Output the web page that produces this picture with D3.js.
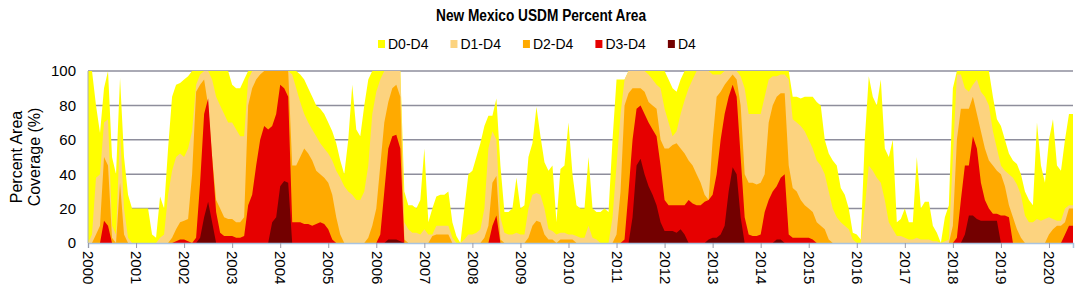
<!DOCTYPE html>
<html>
<head>
<meta charset="utf-8">
<script src="https://cdn.jsdelivr.net/npm/d3@7"></script>
<style>
body { margin: 0; background: #fff; }
text { font-family: "Liberation Sans", Arial, sans-serif; }
</style>
</head>
<body>
<div id="chart"></div>
<script>
// monthly values, first value = Jan 2000, last = Jul 2020
const startYear = 2000;
const yearTicks = d3.range(2000, 2021);
const yTicks = [0, 20, 40, 60, 80, 100];
const categories = ["D0-D4", "D1-D4", "D2-D4", "D3-D4", "D4"];
const colors = ["#ffff00", "#fcd37f", "#ffaa00", "#e60000", "#730000"];

const d0 = [
100,100,80,64,90,100,50,40,96,50,28,20,
20,20,20,20,5,3,27,20,55,85,92,93,
95,97,100,100,100,100,100,100,100,100,100,100,
92,90,90,95,100,100,100,100,100,100,100,100,
100,100,100,100,100,98,95,90,85,80,78,75,
70,65,58,48,40,60,92,66,62,80,95,100,
100,100,100,100,100,100,100,30,22,22,20,25,
55,12,20,27,28,28,30,12,4,0,20,40,
42,50,58,68,74,74,84,45,18,18,20,38,
20,22,50,58,79,62,47,42,45,12,43,45,
70,40,22,20,20,50,20,18,18,20,18,60,
95,95,95,100,100,100,100,100,100,100,100,100,
100,95,90,88,95,100,100,100,100,100,100,100,
100,100,100,100,100,100,100,100,100,100,100,100,
100,100,100,100,100,100,100,100,85,85,84,85,
85,85,82,80,60,52,48,45,32,28,20,6,
5,2,60,97,85,80,95,55,50,60,12,14,
20,12,12,50,20,24,24,10,6,0,15,22,
90,100,100,100,100,100,100,100,100,100,85,72,
68,60,52,48,46,40,30,25,22,70,45,35,
60,72,45,42,60,75,75
];

const d1 = [
0,5,38,40,70,72,10,5,65,20,3,0,
0,0,0,0,0,0,3,5,28,42,50,52,
50,55,65,92,98,100,100,95,85,80,75,70,
70,66,62,62,95,100,100,100,100,100,100,100,
100,100,100,98,90,82,75,70,66,62,58,55,
52,48,42,38,33,30,28,25,25,30,45,75,
88,95,100,100,100,100,100,12,8,6,6,5,
8,5,5,10,10,10,10,3,0,0,2,5,
5,6,8,20,55,65,60,15,6,5,5,6,
5,5,20,28,29,28,20,8,7,5,6,6,
5,5,4,3,3,10,3,2,0,0,0,15,
45,75,95,100,100,100,100,100,98,95,92,90,
78,70,62,65,75,83,90,95,100,100,100,100,
98,98,98,100,100,100,100,97,90,75,75,75,
75,85,95,97,97,98,98,95,72,70,68,65,
60,55,48,45,40,30,20,15,12,10,8,2,
0,0,20,45,42,38,35,25,12,8,4,4,
3,2,2,3,2,2,2,1,1,0,1,2,
50,98,98,90,88,92,95,88,85,80,65,55,
45,42,40,38,34,28,16,12,12,14,13,14,
15,14,13,13,20,22,22
];

const d2 = [
0,0,5,10,50,45,3,0,35,5,0,0,
0,0,0,0,0,0,0,0,0,3,8,12,
13,14,40,88,92,95,80,50,25,20,15,14,
14,12,12,15,80,90,95,98,100,100,100,100,
100,100,100,45,45,50,55,52,48,42,40,38,
35,28,15,5,0,0,0,0,0,0,3,10,
20,45,70,82,90,92,85,2,0,0,0,0,
0,0,4,5,5,5,5,0,0,0,0,0,
0,0,0,3,10,35,39,2,0,0,0,0,
0,0,3,10,13,12,5,2,2,0,2,2,
2,2,0,0,0,0,0,0,0,0,0,0,
5,30,80,87,90,90,90,88,82,80,78,60,
55,55,57,58,55,52,48,45,40,35,28,25,
60,85,88,92,95,98,95,80,40,35,35,34,
35,40,70,80,85,87,87,45,32,30,25,22,
20,18,12,10,8,2,0,0,0,0,0,0,
0,0,0,0,0,0,0,0,0,0,0,0,
0,0,0,0,0,0,0,0,0,0,0,0,
10,60,78,78,78,85,75,65,55,48,45,42,
40,33,22,15,8,3,0,0,0,0,0,0,
5,8,10,10,12,20,20
];

const d3v = [
0,0,0,0,13,10,0,0,0,0,0,0,
0,0,0,0,0,0,0,0,0,0,1,2,
2,1,0,3,35,75,84,50,18,6,4,4,
4,3,3,4,22,28,45,60,68,66,68,75,
92,90,85,12,12,12,11,11,10,11,12,11,
8,2,0,0,0,0,0,0,0,0,0,0,
0,5,30,55,62,63,55,0,0,0,0,0,
0,0,0,0,0,0,0,0,0,0,0,0,
0,0,0,0,0,10,16,0,0,0,0,0,
0,0,0,0,0,0,0,0,0,0,0,0,
0,0,0,0,0,0,0,0,0,0,0,0,
0,0,2,30,60,78,80,75,70,66,62,45,
25,22,22,22,22,22,25,23,22,22,24,25,
28,40,60,75,85,92,85,50,15,5,4,4,
5,18,25,30,33,38,40,5,3,3,3,3,
3,2,0,0,0,0,0,0,0,0,0,0,
0,0,0,0,0,0,0,0,0,0,0,0,
0,0,0,0,0,0,0,0,0,0,0,0,
0,3,25,45,45,62,55,35,25,20,17,17,
16,16,15,0,0,0,0,0,0,0,0,0,
0,0,0,0,5,10,10
];

const d4 = [
0,0,0,0,0,0,0,0,0,0,0,0,
0,0,0,0,0,0,0,0,0,0,0,0,
0,0,0,0,3,15,24,12,0,0,0,0,
0,0,0,0,0,0,0,0,0,0,12,15,
33,36,35,0,0,0,0,0,0,0,0,0,
0,0,0,0,0,0,0,0,0,0,0,0,
0,0,0,2,2,2,1,0,0,0,0,0,
0,0,0,0,0,0,0,0,0,0,0,0,
0,0,0,0,0,0,0,0,0,0,0,0,
0,0,0,0,0,0,0,0,0,0,0,0,
0,0,0,0,0,0,0,0,0,0,0,0,
0,0,0,0,15,45,49,40,33,28,22,12,
7,7,7,6,8,5,0,0,0,0,0,2,
3,3,5,10,30,44,40,15,0,0,0,0,
0,0,0,0,2,2,0,0,0,0,0,0,
0,0,0,0,0,0,0,0,0,0,0,0,
0,0,0,0,0,0,0,0,0,0,0,0,
0,0,0,0,0,0,0,0,0,0,0,0,
0,0,0,5,16,16,14,13,13,13,13,13,
0,0,0,0,0,0,0,0,0,0,0,0,
0,0,0,0,0,0,0
];

const series = [d0, d1, d2, d3v, d4];
const dates = d0.map((_, i) => startYear + i / 12);

const W = 1084, H = 292;
const plotLeft = 88, plotRight = 1073, plotTop = 71, plotBottom = 243;

const svg = d3.select("#chart").append("svg")
  .attr("width", W)
  .attr("height", H);

const x = d3.scaleLinear()
  .domain([startYear, d3.max(dates)])
  .range([plotLeft, plotRight]);

const y = d3.scaleLinear()
  .domain([0, 100])
  .range([plotBottom, plotTop]);

// title (narrow bold face in the original)
svg.append("text")
  .attr("x", 541)
  .attr("y", 21)
  .attr("text-anchor", "middle")
  .attr("textLength", 210)
  .attr("lengthAdjust", "spacingAndGlyphs")
  .style("font-size", "16px")
  .style("font-weight", "bold")
  .text("New Mexico USDM Percent Area");

// legend
const legend = svg.append("g").attr("transform", "translate(378,49)");
let lx = 0;
categories.forEach((c, i) => {
  legend.append("rect")
    .attr("x", lx).attr("y", -9)
    .attr("width", 7).attr("height", 8)
    .attr("fill", colors[i]);
  const t = legend.append("text")
    .attr("x", lx + 10).attr("y", 0)
    .style("font-size", "14px")
    .text(c);
  lx += 10 + t.node().getComputedTextLength() + 22;
});

// gridlines
svg.append("g")
  .selectAll("line")
  .data(yTicks.filter(d => d > 0))
  .enter().append("line")
  .attr("x1", plotLeft).attr("x2", plotRight)
  .attr("y1", d => y(d)).attr("y2", d => y(d))
  .attr("stroke", "#8e8e9c")
  .attr("stroke-width", 1.5);

// areas, widest category first
series.forEach((s, k) => {
  const area = d3.area()
    .x((d, i) => x(dates[i]))
    .y0(y(0))
    .y1(d => y(d));
  svg.append("path")
    .datum(s)
    .attr("fill", colors[k])
    .attr("d", area);
});

// left border
svg.append("line")
  .attr("x1", plotLeft).attr("x2", plotLeft)
  .attr("y1", plotTop).attr("y2", plotBottom)
  .attr("stroke", "#a8aebc")
  .attr("stroke-width", 1);

// x axis
const xAxis = svg.append("g")
  .attr("transform", `translate(0,${plotBottom})`)
  .call(d3.axisBottom(x).tickValues(yearTicks).tickFormat(d3.format("d")).tickSize(5).tickPadding(8));
xAxis.select(".domain").attr("stroke", "#a9c4e0").attr("stroke-width", 1.5);
xAxis.selectAll(".tick line").attr("stroke", "#9a9aa8");
xAxis.selectAll(".tick text")
  .style("font-size", "15px")
  .attr("fill", "#000")
  .attr("text-anchor", "start")
  .attr("transform", "rotate(90)")
  .attr("x", 8)
  .attr("y", 0)
  .attr("dy", "0.35em");

// y axis labels
const yAxis = svg.append("g")
  .attr("transform", `translate(${plotLeft},0)`)
  .call(d3.axisLeft(y).tickValues(yTicks).tickSize(0).tickPadding(12));
yAxis.select(".domain").remove();
yAxis.selectAll(".tick text")
  .style("font-size", "15px")
  .attr("fill", "#000");

// y axis title
const yTitle = svg.append("text")
  .attr("transform", "translate(22,157) rotate(-90)")
  .attr("text-anchor", "middle")
  .style("font-size", "16px");
yTitle.append("tspan").attr("x", 0).attr("dy", 0).text("Percent Area");
yTitle.append("tspan").attr("x", 0).attr("dy", "1.1em").text("Coverage (%)");
</script>
</body>
</html>
